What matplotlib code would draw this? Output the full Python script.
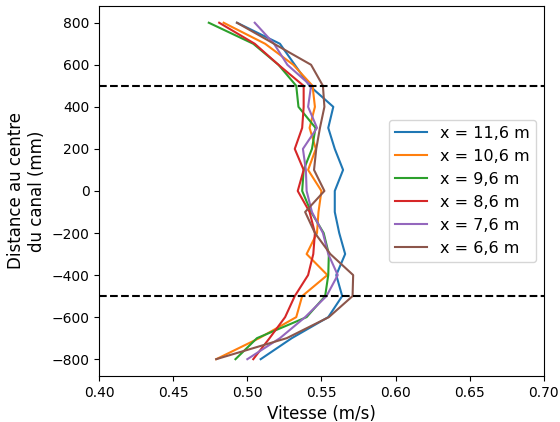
import matplotlib
matplotlib.use("Agg")
import matplotlib.pyplot as plt
import numpy as np

# distance au centre du canal (mm)
distance = [800, 700, 600, 500, 400, 300, 200, 100, 0,
            -100, -200, -300, -400, -500, -600, -700, -800]

# vitesses (m/s)
v_11_6 = [0.493, 0.522, 0.532, 0.542, 0.558, 0.5546, 0.559, 0.5646, 0.559,
          0.559, 0.562, 0.566, 0.560, 0.564, 0.5546, 0.530, 0.509]
v_10_6 = [0.484, 0.512, 0.531, 0.544, 0.5456, 0.542, 0.5462, 0.541, 0.550,
          0.548, 0.547, 0.540, 0.554, 0.537, 0.533, 0.508, 0.479]
v_9_6 = [0.474, 0.504, 0.521, 0.533, 0.5345, 0.546, 0.5436, 0.538, 0.537,
         0.543, 0.5515, 0.555, 0.5546, 0.5525, 0.540, 0.5065, 0.492]
v_8_6 = [0.481, 0.505, 0.521, 0.538, 0.538, 0.537, 0.532, 0.538, 0.534,
         0.542, 0.5456, 0.5445, 0.541, 0.532, 0.5255, 0.515, 0.504]
v_7_6 = [0.505, 0.518, 0.527, 0.543, 0.541, 0.547, 0.5375, 0.5395, 0.540,
         0.5436, 0.551, 0.5546, 0.561, 0.5534, 0.539, 0.522, 0.500]
v_6_6 = [0.493, 0.518, 0.543, 0.551, 0.552, 0.549, 0.5465, 0.545, 0.552,
         0.539, 0.5456, 0.556, 0.5714, 0.571, 0.555, 0.5266, 0.479]

series = [v_11_6, v_10_6, v_9_6, v_8_6, v_7_6, v_6_6]
labels = ['x = 11,6 m', 'x = 10,6 m', 'x = 9,6 m',
          'x = 8,6 m', 'x = 7,6 m', 'x = 6,6 m']

fig, ax = plt.subplots(figsize=(5.6, 4.22), dpi=100)
fig.subplots_adjust(left=0.177, right=0.971, top=0.986, bottom=0.109)

for v, lab in zip(series, labels):
    ax.plot(v, distance, label=lab)

# limites de la zone centrale
ax.axhline(500, color='k', linestyle='--')
ax.axhline(-500, color='k', linestyle='--')

ax.set_xlim(0.40, 0.70)
ax.set_ylim(-880, 880)
ax.set_xticks(np.arange(0.40, 0.701, 0.05))
ax.xaxis.set_major_formatter(matplotlib.ticker.FormatStrFormatter('%.2f'))
ax.set_xlabel("Vitesse (m/s)", fontsize=12)
ax.set_ylabel("Distance au centre\ndu canal (mm)", fontsize=12)
ax.legend(loc='center right', fontsize=11.5)

fig.savefig("out.png", dpi=100)
